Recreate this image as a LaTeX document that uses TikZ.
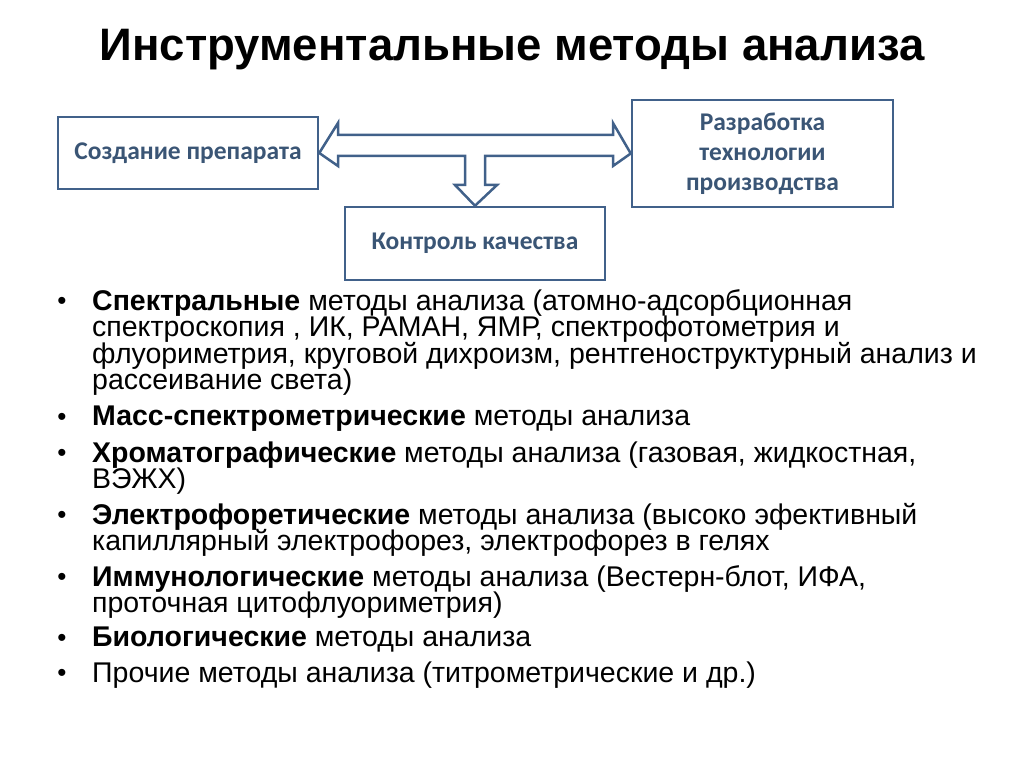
\documentclass[tikz,border=0pt]{standalone}
\usepackage{fontspec}
\setmainfont{Liberation Sans}
\newfontfamily\boxfont{Carlito}
\definecolor{frame}{HTML}{41618A}
\definecolor{btext}{HTML}{3A5575}
\begin{document}
\begin{tikzpicture}[x=1pt,y=-1pt,
  bx/.style={draw=frame,line width=2.5pt,minimum width=260pt,align=center,font=\boxfont\bfseries\fontsize{25.5}{30}\selectfont,text=btext},
  ln/.style={anchor=west,font=\fontsize{28.5}{32}\selectfont,inner sep=0pt},
  bul/.style={anchor=center,font=\fontsize{26}{30}\selectfont,inner sep=0pt}]
\useasboundingbox (0,0) rectangle (1024,767);
\node[font=\bfseries\fontsize{45.5}{50}\selectfont] (title) at (512,50) {Инструментальные методы анализа};
\node[bx,minimum height=72pt] (b1) at (188,153) {Создание препарата};
\node[bx,minimum height=107pt,minimum width=261pt] (b3) at (762.5,153.5) {Разработка\\технологии\\производства};
\node[bx,minimum height=73pt] (b2) at (475,243.5) {Контроль качества};
\draw[frame,line width=2.5pt,line join=miter]
 (b1.east) -- (338,123) -- (338,135) -- (613,135) -- (613,123) -- (b3.west)
 -- (613,166) -- (613,156) -- (485,156) -- (485,185) -- (497,185) -- (b2.north)
 -- (455,185) -- (465,185) -- (465,156) -- (338,156) -- (338,166) -- cycle;
\foreach \y/\t in {
303/{\textbf{Спектральные} методы анализа (атомно-адсорбционная},
329/{спектроскопия , ИК, РАМАН, ЯМР, спектрофотометрия и},
356/{флуориметрия, круговой дихроизм, рентгеноструктурный анализ и},
382/{рассеивание света)},
419/{\textbf{Масс-спектрометрические} методы анализа},
455/{\textbf{Хроматографические} методы анализа (газовая, жидкостная,},
481/{ВЭЖХ)},
517/{\textbf{Электрофоретические} методы анализа (высоко эфективный},
543/{капиллярный электрофорез, электрофорез в гелях},
579/{\textbf{Иммунологические} методы анализа (Вестерн-блот, ИФА,},
605/{проточная цитофлуориметрия)},
640/{\textbf{Биологические} методы анализа},
675/{Прочие методы анализа (титрометрические и др.)}}
{\node[ln] at (92,\y) {\t};}
\foreach \y in {303,419,455,517,579,640,675}{\node[bul] at (62,\y) {•};}
\end{tikzpicture}
\end{document}
